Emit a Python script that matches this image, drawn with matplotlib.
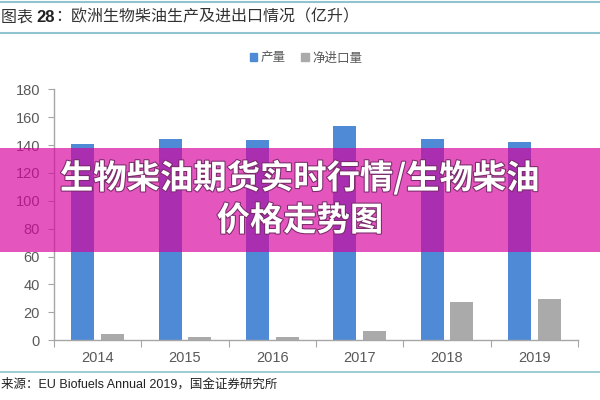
import numpy as np
import matplotlib
matplotlib.use("Agg")
import matplotlib.pyplot as plt
from matplotlib.patches import Rectangle
from matplotlib.lines import Line2D
import matplotlib.patheffects as pe

plt.rcParams['font.family'] = ['Noto Sans CJK SC', 'DejaVu Sans']

# data (亿升)
years = ["2014", "2015", "2016", "2017", "2018", "2019"]
production = [141, 144.5, 144, 153.5, 144.5, 142]
net_import = [4.5, 2.5, 2, 6.5, 27, 29.5]
series_names = ["产量", "净进口量"]
yticks = [0, 20, 40, 60, 80, 100, 120, 140, 160, 180]

title_parts = ["图表 ", "28", "：欧洲生物柴油生产及进出口情况（亿升）"]
source_text = "来源：EU Biofuels Annual 2019，国金证券研究所"
banner_text = "生物柴油期货实时行情/生物柴油\n价格走势图"

blue = "#4F8AD6"
grey = "#AAAAAA"
txt_grey = "#595959"

fig = plt.figure(figsize=(6, 4), dpi=100)
W, H = 600, 400

# axes box in pixels: left 54, right 578, y=340 for 0, y=89.5 for 180
ax = fig.add_axes([54 / W, 1 - 340 / H, (578 - 54) / W, (340 - 89.5) / H])

x = np.arange(len(years))
bw = 0.265
ax.bar(x - 0.17, production, bw, color=blue, zorder=2)
ax.bar(x + 0.17, net_import, bw, color=grey, zorder=2)

ax.set_xlim(-0.5, len(years) - 0.5)
ax.set_ylim(0, 180)
ax.set_yticks(yticks)
ax.set_yticklabels([str(v) for v in yticks], family="Liberation Sans",
                   fontsize=10.5, color=txt_grey)

# category labels in the middle, tick marks on the boundaries
ax.set_xticks(np.arange(-0.5, len(years)), minor=False)
ax.set_xticklabels([])
ax.set_xticks(x, minor=True)
ax.set_xticklabels(years, minor=True, family="Liberation Sans",
                   fontsize=10.5, color=txt_grey)
ax.tick_params(axis="x", which="major", length=5, color="#A6A6A6",
               direction="out")
ax.tick_params(axis="x", which="minor", length=0, pad=8)
ax.tick_params(axis="y", length=4, color="#A6A6A6", pad=6)

for s in ["top", "right"]:
    ax.spines[s].set_visible(False)
for s in ["left", "bottom"]:
    ax.spines[s].set_color("#A6A6A6")
    ax.spines[s].set_linewidth(1)

# legend at the top centre
handles = [Rectangle((0, 0), 1, 1, color=blue), Rectangle((0, 0), 1, 1, color=grey)]
fig.legend(handles, series_names, loc="center", bbox_to_anchor=(0.51, 1 - 58 / H),
           ncol=2, frameon=False, fontsize=9, handlelength=0.6,
           handleheight=0.6, handletextpad=0.3, columnspacing=1.2,
           labelcolor=txt_grey)

# title strip with two thin teal rules
line_col = "#8FC3CF"
fig.add_artist(Line2D([0, 1], [1 - 2 / H, 1 - 2 / H], color=line_col, lw=1.5))
fig.add_artist(Line2D([0, 1], [1 - 33 / H, 1 - 33 / H], color=line_col, lw=1.5))
# title in three pieces so "28" can be bold, each chained to the previous one
t0 = fig.text(0.002, 1 - 17 / H, title_parts[0], fontsize=11.5, va="center",
              ha="left", color="#333333")
t1 = ax.annotate(title_parts[1], xy=(1, 0.5), xycoords=t0, va="center",
                 ha="left", fontsize=12, fontweight="bold", color="#222222",
                 family=["Liberation Sans", "Noto Sans CJK SC"],
                 annotation_clip=False)
ax.annotate(title_parts[2], xy=(1, 0.5), xycoords=t1, va="center",
            ha="left", fontsize=11.5, color="#333333", annotation_clip=False)

# source line at the bottom
fig.add_artist(Line2D([0, 1], [1 - 372 / H, 1 - 372 / H], color=line_col, lw=1.2))
fig.text(0.002, 1 - 384 / H, source_text, fontsize=9, va="center", ha="left",
         color="#222222", family=["Liberation Sans", "Noto Sans CJK SC"])

# pink banner across the middle
fig.add_artist(Rectangle((0, 1 - 252 / H), 1, 104 / H, transform=fig.transFigure,
                         facecolor=(216 / 255, 2 / 255, 158 / 255), alpha=0.67,
                         edgecolor="none", zorder=5))
fig.text(0.5, 1 - 199 / H, banner_text, fontsize=24, fontweight="bold",
         color="white", ha="center", va="center", linespacing=1.35, zorder=6,
         path_effects=[pe.withStroke(linewidth=1.5, foreground="#7a2a6a")])

fig.savefig("out.png", dpi=100)
